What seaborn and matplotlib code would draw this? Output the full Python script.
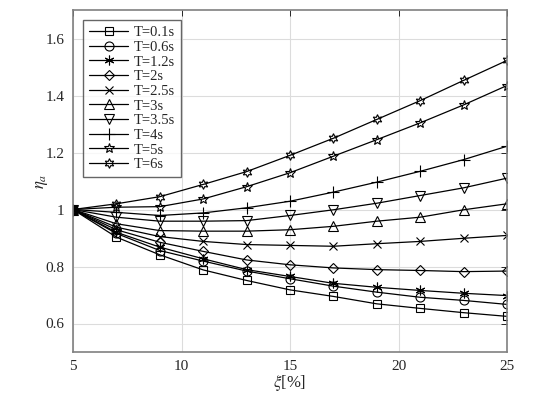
import numpy as np
import pandas as pd
import matplotlib
matplotlib.use("Agg")
import matplotlib.pyplot as plt
import seaborn as sns

xi = [5, 7, 9, 11, 13, 15, 17, 19, 21, 23, 25]
labels = ["T=0.1s", "T=0.6s", "T=1.2s", "T=2s", "T=2.5s", "T=3s", "T=3.5s", "T=4s", "T=5s", "T=6s"]
t01 = [1.0, 0.903, 0.841, 0.788, 0.751, 0.718, 0.695, 0.669, 0.653, 0.638, 0.625]
t06 = [1.0, 0.916, 0.856, 0.819, 0.784, 0.757, 0.731, 0.710, 0.692, 0.681, 0.667]
t12 = [1.0, 0.920, 0.868, 0.827, 0.789, 0.765, 0.741, 0.727, 0.716, 0.706, 0.698]
t20 = [1.0, 0.929, 0.885, 0.853, 0.823, 0.806, 0.795, 0.789, 0.786, 0.782, 0.784]
t25 = [1.0, 0.938, 0.905, 0.888, 0.877, 0.874, 0.871, 0.880, 0.888, 0.899, 0.909]
t30 = [1.0, 0.950, 0.926, 0.924, 0.924, 0.929, 0.941, 0.959, 0.973, 0.999, 1.020]
t35 = [1.0, 0.973, 0.959, 0.959, 0.961, 0.979, 0.999, 1.022, 1.049, 1.076, 1.110]
t40 = [1.0, 0.990, 0.979, 0.988, 1.006, 1.029, 1.061, 1.096, 1.134, 1.175, 1.222]
t50 = [1.0, 1.008, 1.010, 1.037, 1.080, 1.129, 1.187, 1.245, 1.304, 1.367, 1.435]
t60 = [1.0, 1.020, 1.045, 1.088, 1.133, 1.190, 1.250, 1.316, 1.382, 1.453, 1.523]
series = [t01, t06, t12, t20, t25, t30, t35, t40, t50, t60]
yticks = [0.6, 0.8, 1.0, 1.2, 1.4, 1.6]
ytick_labels = ["0.6", "0.8", "1", "1.2", "1.4", "1.6"]
xticks = [5, 10, 15, 20, 25]

markers = ["s", "o", (6, 2, 0), "D", "x", "^", "v", "+", "*", (6, 1, 0)]
msizes = [5.5, 6.5, 7, 5, 6, 6.5, 6.5, 8, 7, 7]

sns.set_style("white")
plt.rcParams["font.family"] = ["Liberation Serif", "DejaVu Serif"]
plt.rcParams["mathtext.fontset"] = "stix"

fig = plt.figure(figsize=(5.6, 3.98), dpi=100)
ax = fig.add_axes([73 / 560, 1 - 352 / 398, (507 - 73) / 560, (352 - 10) / 398])

for lab, vals, m, ms in zip(labels, series, markers, msizes):
    d = pd.DataFrame({"x": xi, "y": vals})
    sns.lineplot(data=d, x="x", y="y", ax=ax, color="k", marker=m, markersize=ms,
                 markerfacecolor="none", markeredgecolor="k", markeredgewidth=0.8,
                 linewidth=0.9, label=lab)

ax.set_xlim(5, 25)
ax.set_ylim(0.5, 1.7)
ax.set_xticks(xticks)
ax.set_xticklabels([str(v) for v in xticks])
ax.set_yticks(yticks)
ax.set_yticklabels(ytick_labels)
ax.grid(True, color="#dcdcdc", linewidth=0.8)
ax.tick_params(direction="in", top=True, right=True, length=4, width=0.7,
               labelsize=11, colors="#262626", pad=6)
for s in ax.spines.values():
    s.set_color("#808080")
    s.set_linewidth(1.2)
ax.set_xlabel(r"$\xi$[%]", fontsize=12, color="#262626", labelpad=0)
ax.set_ylabel(r"$\eta_a$", fontsize=12, color="#262626", labelpad=-3)

leg = ax.legend(loc="upper left", fontsize=10.5, frameon=True, fancybox=False,
                edgecolor="#404040", handlelength=2.7, labelspacing=0.1,
                borderaxespad=0.7, handletextpad=0.4, borderpad=0.4)
leg.get_frame().set_linewidth(1.0)

fig.savefig("out.png", dpi=100)
